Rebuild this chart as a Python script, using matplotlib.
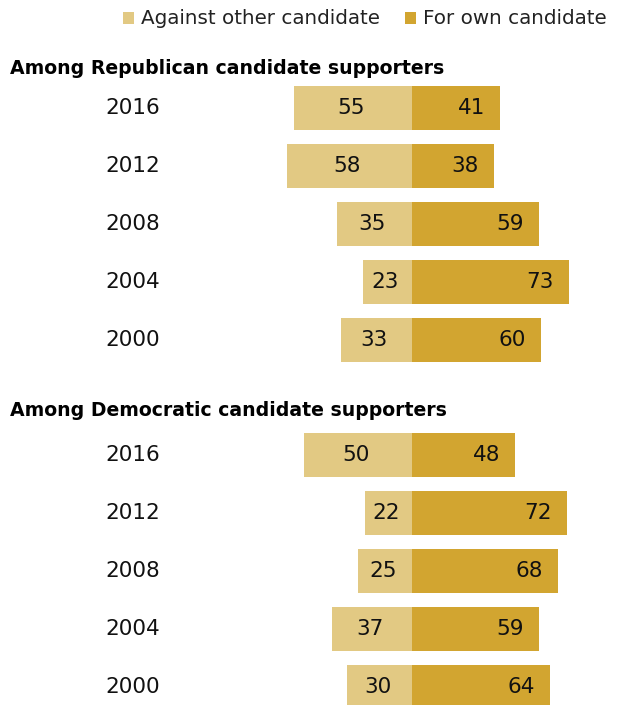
import matplotlib.pyplot as plt

# Share of voters whose vote is mainly for own candidate vs. against the other
years = ["2016", "2012", "2008", "2004", "2000"]
rep_against = [55, 58, 35, 23, 33]
rep_for = [41, 38, 59, 73, 60]
dem_against = [50, 22, 25, 37, 30]
dem_for = [48, 72, 68, 59, 64]

groups = [
    ("Among Republican candidate supporters", rep_against, rep_for),
    ("Among Democratic candidate supporters", dem_against, dem_for),
]

LIGHT = "#E2C983"
DARK = "#D2A530"

W, H = 620, 705
PX = 2.15           # pixels per percentage point
X0 = 412            # pixel position of the zero line

fig = plt.figure(figsize=(W / 100, H / 100), dpi=100)
ax = fig.add_axes([0, 0, 1, 1])
ax.set_xlim(-X0 / PX, (W - X0) / PX)
ax.set_ylim(H, 0)   # y in pixels, top down
ax.axis("off")

font = "DejaVu Sans"
fs = 15.5


def px(x):
    # pixel x -> data x
    return (x - X0) / PX


# legend
ax.add_patch(plt.Rectangle((px(123), 12), 11 / PX, 12, color=LIGHT, lw=0))
ax.text(px(141), 18, "Against other candidate", fontsize=14.3, family=font,
        va="center", ha="left", color="#222222")
ax.add_patch(plt.Rectangle((px(405), 12), 11 / PX, 12, color=DARK, lw=0))
ax.text(px(423), 18, "For own candidate", fontsize=14.3, family=font,
        va="center", ha="left", color="#222222")

bar_h = 44
row_gap = 58
for g, (title, against, own) in enumerate(groups):
    ax.text(px(10), 68 + g * 342, title, fontsize=13.6, family=font,
            weight="bold", va="center", ha="left", color="black")
    for i, yr in enumerate(years):
        y = 108 + g * 347 + i * row_gap
        a, f = against[i], own[i]
        ax.barh(y, -a, height=bar_h, color=LIGHT, lw=0)
        ax.barh(y, f, height=bar_h, color=DARK, lw=0)
        ax.text(px(133), y, yr, fontsize=fs, family=font, ha="center",
                va="center", color="#111111")
        ax.text(-a / 2 - 1, y, str(a), fontsize=fs, family=font,
                ha="center", va="center", color="#111111")
        ax.text(f - 7, y, str(f), fontsize=fs, family=font,
                ha="right", va="center", color="#111111")

fig.savefig("out.png", dpi=100)
